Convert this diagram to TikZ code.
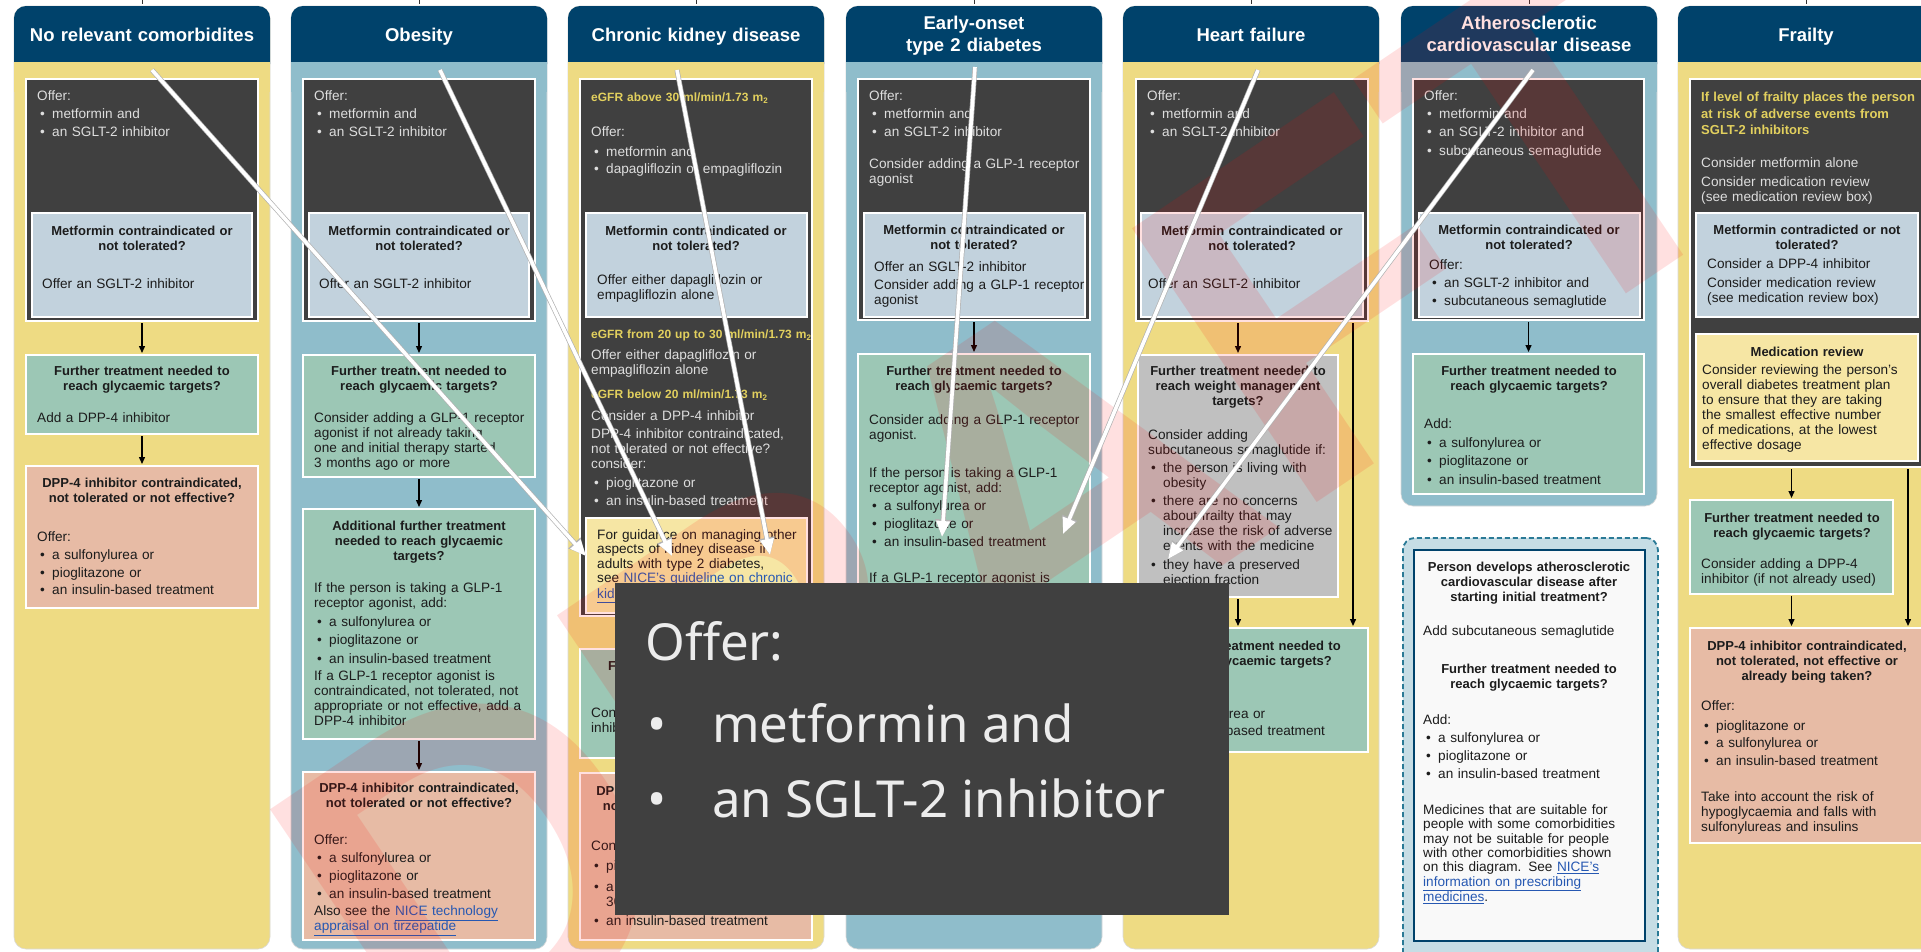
\documentclass[tikz,border=0pt]{standalone}
\usepackage{fontspec}
\setmainfont{Liberation Sans}
\newfontfamily\insetfont{Noto Sans}
\usepackage{pdfrender}
\usetikzlibrary{calc,arrows.meta}
\definecolor{navy}{RGB}{0,66,107}
\definecolor{ypan}{RGB}{238,219,131}
\definecolor{bpan}{RGB}{143,189,203}
\definecolor{darkbox}{RGB}{64,64,64}
\definecolor{lblue}{RGB}{194,210,221}
\definecolor{gbox}{RGB}{156,199,181}
\definecolor{sbox}{RGB}{231,187,165}
\definecolor{greybox}{RGB}{192,192,192}
\definecolor{palebox}{RGB}{246,230,164}
\definecolor{gold}{RGB}{226,208,94}
\definecolor{linkc}{RGB}{38,88,178}
\definecolor{dashfill}{RGB}{198,221,229}
\definecolor{dashline}{RGB}{42,122,150}
\definecolor{wfill}{RGB}{249,249,249}
\definecolor{txtd}{RGB}{28,28,28}
\definecolor{txtl}{RGB}{222,222,222}
\definecolor{insetbg}{RGB}{64,64,64}
\definecolor{insettx}{RGB}{236,236,236}
\newcommand\bodyfont{\fontsize{13.6}{15}\selectfont}
\newcommand\ttlfont{\fontsize{13}{15}\selectfont\bfseries}
\newcommand\bl{\makebox[15pt][l]{\hspace{3pt}\textbullet}}
\newcommand\bi{\hspace*{15pt}}
\newcommand\lnk[1]{\textcolor{linkc}{\underline{#1}}}
\newcommand\mypanel[2]{%
  \fill[#2, draw=black!15, line width=0.6pt, rounded corners=12pt] (#1,6) rectangle ++(256,943);
  \fill[navy, rounded corners=12pt] (#1,6) rectangle ++(256,70);
  \fill[#2] (#1,62) rectangle ++(256,30);}
\tikzset{
 bx/.style={draw=white, line width=1.4pt, inner sep=0pt, outer sep=0pt, anchor=north west},
 tx/.style={inner sep=0pt, anchor=base west, align=left, text width=240pt, font=\bodyfont, text=txtd},
 txl/.style={tx, text=txtl},
 ttl/.style={inner sep=0pt, anchor=base, align=center, text width=240pt, font=\ttlfont, text=txtd},
 gtx/.style={tx, font=\fontsize{13}{16.5}\selectfont\bfseries, text=gold},
 etx/.style={tx, font=\fontsize{12}{15}\selectfont\bfseries, text=gold},
 hdr/.style={inner sep=0pt, anchor=base, align=center, text width=250pt, font=\fontsize{18.5}{22}\selectfont\bfseries, text=white},
 arr/.style={-{Triangle[length=7pt,width=6pt]}, line width=1.3pt, black, shorten >=2pt, shorten <=2pt},
 warr/.style={-{Triangle[length=16pt,width=13pt]}, line width=3.6pt, white},
 warrs/.style={-{Triangle[length=17.5pt,width=15pt]}, line width=5pt, black!30},
 ins/.style={anchor=base west, inner sep=0pt, font=\insetfont\fontsize{51}{60}\selectfont, text=insettx},
}
\begin{document}
\begin{tikzpicture}[x=1pt,y=-1pt]
\useasboundingbox (0,0) rectangle (1921,951);
\fill[white] (0,0) rectangle (1921,951);
% panels
\mypanel{14}{ypan}
\mypanel{291}{bpan}
\mypanel{568}{ypan}
\mypanel{846}{bpan}
\mypanel{1123}{ypan}
\fill[bpan, draw=black!15, line width=0.6pt, rounded corners=12pt] (1401,6) rectangle (1657,506);
\fill[navy, rounded corners=12pt] (1401,6) rectangle ++(256,70);
\fill[bpan] (1401,62) rectangle ++(256,30);
\mypanel{1678}{ypan}
\foreach \x in {142,419,696,974,1251,1529,1806} \draw[black!80, line width=0.8pt] (\x,0) -- (\x,4);
% headers
\node[hdr] (h1) at (142,41) {No relevant comorbidites};
\node[hdr] (h2) at (419,41) {Obesity};
\node[hdr] (h3) at (696,41) {Chronic kidney disease};
\node[hdr] (h4) at (974,29.5) {Early-onset\\type 2 diabetes};
\node[hdr] (h5) at (1251,41) {Heart failure};
\node[hdr] (h6) at (1529,29.5) {Atherosclerotic\\cardiovascular disease};
\node[hdr] (h7) at (1806,41) {Frailty};

% ---------- column 1
\node[bx, fill=darkbox, minimum width=232pt, minimum height=242pt] (d1) at (26,79) {};
\node[txl] (d1t) at (37,100.5) {Offer:\\[3pt]\bl metformin and\\[3pt]\bl an SGLT-2 inhibitor};
\node[bx, fill=lblue, minimum width=220pt, minimum height=104pt] (b1) at (32,213) {};
\node[ttl] (b1h) at (142,235.5) {Metformin contraindicated or\\not tolerated?};
\node[tx] (b1t) at (42,288.5) {Offer an SGLT-2 inhibitor};
\node[bx, fill=gbox, minimum width=232pt, minimum height=79pt] (g1) at (26,355) {};
\node[ttl] (g1h) at (142,375.5) {Further treatment needed to\\reach glycaemic targets?};
\node[tx] (g1t) at (37,422.5) {Add a DPP-4 inhibitor};
\node[bx, fill=sbox, minimum width=232pt, minimum height=142pt] (s1) at (26,466) {};
\node[ttl] (s1h) at (142,487.5) {DPP-4 inhibitor contraindicated,\\not tolerated or not effective?};
\node[tx] (s1t) at (37,541.5) {Offer:\\[3pt]\bl a sulfonylurea or\\[3pt]\bl pioglitazone or\\[2pt]\bl an insulin-based treatment};
\draw[arr] (d1) -- (g1);
\draw[arr] (g1) -- (s1);

% ---------- column 2
\node[bx, fill=darkbox, minimum width=232pt, minimum height=242pt] (d2) at (303,79) {};
\node[txl] (d2t) at (314,100.5) {Offer:\\[3pt]\bl metformin and\\[3pt]\bl an SGLT-2 inhibitor};
\node[bx, fill=lblue, minimum width=220pt, minimum height=104pt] (b2) at (309,213) {};
\node[ttl] (b2h) at (419,235.5) {Metformin contraindicated or\\not tolerated?};
\node[tx] (b2t) at (319,288.5) {Offer an SGLT-2 inhibitor};
\node[bx, fill=gbox, minimum width=232pt, minimum height=122pt] (g2a) at (303,355) {};
\node[ttl] (g2ah) at (419,375.5) {Further treatment needed to\\reach glycaemic targets?};
\node[tx] (g2at) at (314,422.5) {Consider adding a GLP-1 receptor\\agonist if not already taking\\one and initial therapy started\\3 months ago or more};
\node[bx, fill=gbox, minimum width=232pt, minimum height=230pt] (g2b) at (303,509) {};
\node[ttl] (g2bh) at (419,530.5) {Additional further treatment\\needed to reach glycaemic\\targets?};
\node[tx] (g2bt) at (314,592.5) {If the person is taking a GLP-1\\receptor agonist, add:\\[3.5pt]\bl a sulfonylurea or\\[3.5pt]\bl pioglitazone or\\[3.5pt]\bl an insulin-based treatment\\[2pt]If a GLP-1 receptor agonist is\\contraindicated, not tolerated, not\\appropriate or not effective, add a\\DPP-4 inhibitor};
\node[bx, fill=sbox, minimum width=232pt, minimum height=168pt] (s2) at (303,772) {};
\node[ttl] (s2h) at (419,792.5) {DPP-4 inhibitor contraindicated,\\not tolerated or not effective?};
\node[tx] (s2t) at (314,844.5) {Offer:\\[3pt]\bl a sulfonylurea or\\[3pt]\bl pioglitazone or\\[3pt]\bl an insulin-based treatment\\[2pt]Also see the \lnk{NICE technology}\\\lnk{appraisal on tirzepatide}};
\draw[arr] (d2) -- (g2a);
\draw[arr] (g2a) -- (g2b);
\draw[arr] (g2b) -- (s2);

% ---------- column 3
\node[bx, fill=darkbox, minimum width=232pt, minimum height=537pt] (d3) at (580,79) {};
\node[etx] (d3a) at (591,101.5) {eGFR above 30 ml/min/1.73 m\textsubscript{2}};
\node[txl] (d3b) at (591,136.5) {Offer:\\[5pt]\bl metformin and\\[2pt]\bl dapagliflozin or empagliflozin};
\node[bx, fill=lblue, minimum width=221pt, minimum height=104pt] (b3) at (586,213) {};
\node[ttl] (b3h) at (696,235.5) {Metformin contraindicated or\\not tolerated?};
\node[tx] (b3t) at (597,284.5) {Offer either dapagliflozin or\\empagliflozin alone};
\node[etx] (d3c) at (591,338.5) {eGFR from 20 up to 30 ml/min/1.73 m\textsubscript{2}};
\node[txl] (d3d) at (591,359.5) {Offer either dapagliflozin or\\empagliflozin alone};
\node[etx] (d3e) at (591,398.5) {eGFR below 20 ml/min/1.73 m\textsubscript{2}};
\node[txl] (d3f) at (591,420.5) {Consider a DPP-4 inhibitor\\[3pt]DPP-4 inhibitor contraindicated,\\not tolerated or not effective?\\consider:\\[4pt]\bl pioglitazone or\\[3pt]\bl an insulin-based treatment};
\node[bx, fill=palebox, minimum width=221pt, minimum height=95pt] (y3) at (586,518) {};
\node[tx, font=\fontsize{13.6}{14.3}\selectfont] (y3t) at (597,539.5) {For guidance on managing other\\aspects of kidney disease in\\adults with type 2 diabetes,\\see \lnk{NICE’s guideline on chronic}\\\lnk{kidney disease}.};
\node[bx, fill=gbox, minimum width=232pt, minimum height=109pt] (g3) at (580,649) {};
\node[ttl] (g3h) at (696,670.5) {Further treatment needed to\\reach glycaemic targets?};
\node[tx] (g3t) at (591,717.5) {Consider adding a DPP-4\\inhibitor};
\node[bx, fill=sbox, minimum width=232pt, minimum height=167pt] (s3) at (580,773) {};
\node[ttl] (s3h) at (696,795.5) {DPP-4 inhibitor contraindicated,\\not tolerated or not effective?};
\node[tx] (s3t) at (591,850.5) {Consider:\\[5pt]\bl pioglitazone or\\[6pt]\bl a sulfonylurea (if eGFR above\\\bi 30 ml/min/1.73 m\textsubscript{2}) or\\[4pt]\bl an insulin-based treatment};
\draw[arr] (d3) -- (g3);
\draw[arr] (g3) -- (s3);

% ---------- column 4
\node[bx, fill=darkbox, minimum width=232pt, minimum height=241pt] (d4) at (858,79) {};
\node[txl] (d4t) at (869,100.5) {Offer:\\[3pt]\bl metformin and\\[3pt]\bl an SGLT-2 inhibitor\\[17pt]Consider adding a GLP-1 receptor\\agonist};
\node[bx, fill=lblue, minimum width=221pt, minimum height=104pt] (b4) at (864,213) {};
\node[ttl] (b4h) at (974,234.5) {Metformin contraindicated or\\not tolerated?};
\node[tx] (b4t) at (874,271.5) {Offer an SGLT-2 inhibitor\\[3pt]Consider adding a GLP-1 receptor\\agonist};
\node[bx, fill=gbox, minimum width=232pt, minimum height=300pt] (g4) at (858,354) {};
\node[ttl] (g4h) at (974,375.5) {Further treatment needed to\\reach glycaemic targets?};
\node[tx] (g4t) at (869,424.5) {Consider adding a GLP-1 receptor\\agonist.\\[23pt]If the person is taking a GLP-1\\receptor agonist, add:\\[3pt]\bl a sulfonylurea or\\[3pt]\bl pioglitazone or\\[3pt]\bl an insulin-based treatment\\[21pt]If a GLP-1 receptor agonist is\\contraindicated, not tolerated, not\\appropriate or not effective, add a\\DPP-4 inhibitor};
\draw[arr] (d4) -- (g4);

% ---------- column 5
\node[bx, fill=darkbox, minimum width=232pt, minimum height=242pt] (d5) at (1136,79) {};
\node[txl] (d5t) at (1147,100.5) {Offer:\\[3pt]\bl metformin and\\[3pt]\bl an SGLT-2 inhibitor};
\node[bx, fill=lblue, minimum width=222pt, minimum height=104pt] (b5) at (1141,213) {};
\node[ttl] (b5h) at (1252,235.5) {Metformin contraindicated or\\not tolerated?};
\node[tx] (b5t) at (1148,288.5) {Offer an SGLT-2 inhibitor};
\node[bx, fill=greybox, minimum width=200pt, minimum height=242pt] (gr5) at (1138,355) {};
\node[ttl] (gr5h) at (1238,375.5) {Further treatment needed to\\reach weight management\\targets?};
\node[tx] (gr5t) at (1148,439.5) {Consider adding\\subcutaneous semaglutide if:\\[3pt]\bl the person is living with\\\bi obesity\\[3pt]\bl there are no concerns\\\bi about frailty that may\\\bi increase the risk of adverse\\\bi events with the medicine\\[4pt]\bl they have a preserved\\\bi ejection fraction};
\node[bx, fill=gbox, minimum width=230pt, minimum height=124pt] (g5) at (1138,628) {};
\node[ttl] (g5h) at (1253,650.5) {Further treatment needed to\\reach glycaemic targets?};
\node[tx] (g5t) at (1148,700.5) {Add:\\[3pt]\bl a sulfonylurea or\\[2pt]\bl an insulin-based treatment};
\draw[arr] (gr5.north |- d5.south) -- (gr5.north);
\draw[arr] (gr5.south) -- (gr5.south |- g5.north);
\coordinate (r5) at ($(d5.south east)+(-15,0)$);
\draw[arr] (r5) -- (r5 |- g5.north);

% ---------- column 6
\node[bx, fill=darkbox, minimum width=231pt, minimum height=241pt] (d6) at (1413,79) {};
\node[txl] (d6t) at (1424,100.5) {Offer:\\[3pt]\bl metformin and\\[3pt]\bl an SGLT-2 inhibitor and\\[4pt]\bl subcutaneous semaglutide};
\node[bx, fill=lblue, minimum width=221pt, minimum height=104pt] (b6) at (1419,213) {};
\node[ttl] (b6h) at (1529,234.5) {Metformin contraindicated or\\not tolerated?};
\node[tx] (b6t) at (1429,269.5) {Offer:\\[3pt]\bl an SGLT-2 inhibitor and\\[3pt]\bl subcutaneous semaglutide};
\node[bx, fill=gbox, minimum width=231pt, minimum height=140pt] (g6) at (1413,354) {};
\node[ttl] (g6h) at (1529,375.5) {Further treatment needed to\\reach glycaemic targets?};
\node[tx] (g6t) at (1424,428.5) {Add:\\[4pt]\bl a sulfonylurea or\\[3pt]\bl pioglitazone or\\[4pt]\bl an insulin-based treatment};
\draw[arr] (d6) -- (g6);
\node[draw=dashline, fill=dashfill, line width=1.8pt, dash pattern=on 5pt off 3pt, rounded corners=12pt, minimum width=255pt, minimum height=430pt, anchor=north west, inner sep=0pt] (dsh) at (1402,537) {};
\node[draw=navy, fill=wfill, line width=2pt, minimum width=231pt, minimum height=391pt, anchor=north west, inner sep=0pt] (wb) at (1413,549) {};
\node[ttl] (wbh) at (1529,571.5) {Person develops atherosclerotic\\cardiovascular disease after\\starting initial treatment?};
\node[tx] (wbt1) at (1423,635.5) {Add subcutaneous semaglutide};
\node[ttl] (wbh2) at (1529,673.5) {Further treatment needed to\\reach glycaemic targets?};
\node[tx] (wbt2) at (1423,724.5) {Add:\\[3pt]\bl a sulfonylurea or\\[3pt]\bl pioglitazone or\\[3pt]\bl an insulin-based treatment};
\node[tx, font=\fontsize{13.6}{14.3}\selectfont] (wbt3) at (1423,814.5) {Medicines that are suitable for\\people with some comorbidities\\may not be suitable for people\\with other comorbidities shown\\on this diagram. See \lnk{NICE’s}\\\lnk{information on prescribing}\\\lnk{medicines}.};

% ---------- column 7
\node[bx, fill=darkbox, minimum width=232pt, minimum height=388pt] (d7) at (1690,79) {};
\node[gtx] (d7a) at (1701,101.5) {If level of frailty places the person\\at risk of adverse events from\\SGLT-2 inhibitors};
\node[txl] (d7b) at (1701,167.5) {Consider metformin alone\\[4pt]Consider medication review\\(see medication review box)};
\node[bx, fill=lblue, minimum width=222pt, minimum height=104pt] (b7) at (1696,213) {};
\node[ttl] (b7h) at (1807,234.5) {Metformin contradicted or not\\tolerated?};
\node[tx] (b7t) at (1707,268.5) {Consider a DPP-4 inhibitor\\[4pt]Consider medication review\\(see medication review box)};
\node[bx, fill=palebox, minimum width=222pt, minimum height=127pt] (m7) at (1696,334) {};
\node[ttl] (m7h) at (1807,356.5) {Medication review};
\node[tx] (m7t) at (1702,374.5) {Consider reviewing the person’s\\overall diabetes treatment plan\\to ensure that they are taking\\the smallest effective number\\of medications, at the lowest\\effective dosage};
\node[bx, fill=gbox, minimum width=203pt, minimum height=94pt] (g7) at (1690,500) {};
\node[ttl] (g7h) at (1792,522.5) {Further treatment needed to\\reach glycaemic targets?};
\node[tx] (g7t) at (1701,568.5) {Consider adding a DPP-4\\inhibitor (if not already used)};
\node[bx, fill=sbox, minimum width=232pt, minimum height=215pt] (s7) at (1690,628) {};
\node[ttl] (s7h) at (1807,650.5) {DPP-4 inhibitor contraindicated,\\not tolerated, not effective or\\already being taken?};
\node[tx] (s7t) at (1701,710.5) {Offer:\\[5pt]\bl pioglitazone or\\[2pt]\bl a sulfonylurea or\\[3pt]\bl an insulin-based treatment\\[21pt]Take into account the risk of\\hypoglycaemia and falls with\\sulfonylureas and insulins};
\draw[arr] (g7.north |- d7.south) -- (g7.north);
\draw[arr] (g7.south) -- (g7.south |- s7.north);
\coordinate (r7) at ($(d7.south west)+(218,0)$);
\draw[arr] (r7) -- (r7 |- s7.north);

% ---------- watermark
\begin{scope}[opacity=0.12]
\node[rotate=34, inner sep=0pt, font=\fontsize{480}{480}\selectfont\bfseries, text=red] (wm) at (1010,510) {\textpdfrender{TextRenderingMode=Stroke,LineWidth=38}{DRAFT}};
\end{scope}

% ---------- white arrows
\coordinate (w1a) at (152,70);  \coordinate (w1b) at (586,556);
\coordinate (w2a) at (440,70);  \coordinate (w2b) at (672,556);
\coordinate (w3a) at (677,70);  \coordinate (w3b) at (770,555);
\coordinate (w4a) at (975,67);  \coordinate (w4b) at (942,537);
\coordinate (w5a) at (1258,70); \coordinate (w5b) at (1063,534);
\coordinate (w6a) at (1533,70); \coordinate (w6b) at (1168,559);
\foreach \i in {1,...,6} {\draw[warrs] (w\i a) -- (w\i b); \draw[warr] (w\i a) -- (w\i b);}

% ---------- inset
\node[fill=insetbg, inner sep=0pt, anchor=north west, minimum width=614pt, minimum height=332pt] (inset) at (615,583) {};
\node[ins] (i1) at (645,660) {Offer:};
\node[ins] (i2) at (645,742) {\makebox[67pt][l]{\hspace{2pt}\textbullet}metformin and};
\node[ins] (i3) at (645,817) {\makebox[67pt][l]{\hspace{2pt}\textbullet}an SGLT-2 inhibitor};
\end{tikzpicture}
\end{document}
